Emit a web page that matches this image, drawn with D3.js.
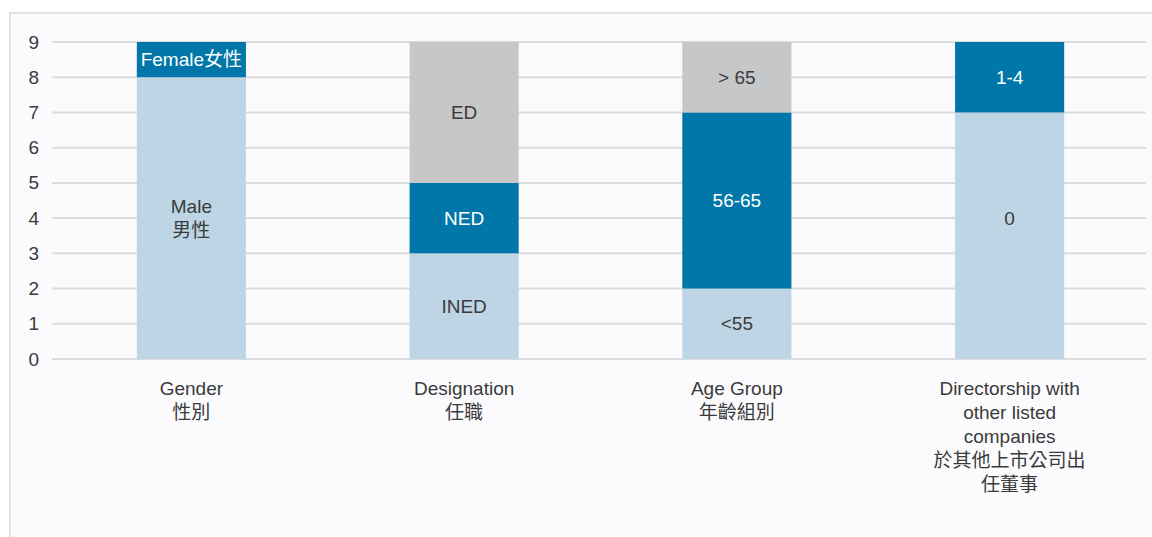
<!DOCTYPE html>
<html>
<head>
<meta charset="utf-8">
<script src="https://cdn.jsdelivr.net/npm/d3@7"></script>
<style>
  body { margin: 0; background: #ffffff; }
  svg { display: block; }
  text { font-family: "Liberation Sans", "Noto Sans CJK TC", sans-serif; }
</style>
</head>
<body>
<div id="chart"></div>
<script>
// categories (each label line is one entry)
var categories = ["Gender", "Designation", "Age Group", "Directorship"];
var categoryLines = [
  ["Gender", "性別"],
  ["Designation", "任職"],
  ["Age Group", "年齡組別"],
  ["Directorship with", "other listed", "companies", "於其他上市公司出", "任董事"]
];

// stacked segments, bottom to top
var segCategory = ["Gender", "Gender", "Designation", "Designation", "Designation", "Age Group", "Age Group", "Age Group", "Directorship", "Directorship"];
var segValue    = [8, 1, 3, 2, 4, 2, 5, 2, 7, 2];
var segTone     = ["light", "dark", "light", "dark", "grey", "light", "dark", "grey", "light", "dark"];
var segLabel    = [["Male", "男性"], ["Female女性"], ["INED"], ["NED"], ["ED"], ["<55"], ["56-65"], ["> 65"], ["0"], ["1-4"]];
// where the label sits (value units), null = middle of the segment
var segLabelAt  = [null, null, null, null, null, null, null, null, 4, null];

var yTicks = [0, 1, 2, 3, 4, 5, 6, 7, 8, 9];

var W = 1152, H = 537;
var margin = {top: 42, right: 6, bottom: 178, left: 55};

var fill = {light: "#bdd5e4", dark: "#0077a8", grey: "#c6c7c9"};
var ink  = {light: "#3a3a3a", dark: "#ffffff", grey: "#3a3a3a"};

var svg = d3.select("#chart").append("svg")
  .attr("width", W)
  .attr("height", H);

// panel frame
svg.append("rect")
  .attr("x", 10).attr("y", 13)
  .attr("width", W).attr("height", H)
  .attr("fill", "#fbfbfd")
  .attr("stroke", "#e2e2e4")
  .attr("stroke-width", 2);

var x = d3.scaleBand()
  .domain(categories)
  .range([margin.left, W - margin.right])
  .paddingInner(0.6)
  .paddingOuter(0.3);

var y = d3.scaleLinear()
  .domain([0, 9])
  .range([H - margin.bottom, margin.top]);

// grid lines
svg.append("g")
  .selectAll("line")
  .data(yTicks)
  .enter()
  .append("line")
    .attr("x1", 52)
    .attr("x2", 1146)
    .attr("y1", function (d) { return y(d); })
    .attr("y2", function (d) { return y(d); })
    .attr("stroke", "#dcdcde")
    .attr("stroke-width", 2);

// y axis labels
var yAxis = svg.append("g")
  .attr("transform", "translate(39,0)")
  .call(d3.axisLeft(y).tickValues(yTicks).tickSize(0).tickPadding(0).tickFormat(d3.format("d")));
yAxis.select(".domain").remove();
yAxis.selectAll("text")
  .attr("font-size", 19)
  .attr("fill", "#3a3a3a")
  .attr("font-family", "Liberation Sans, sans-serif");

// build stacks
var segs = [];
var base = {};
segCategory.forEach(function (c, i) {
  var b = base[c] || 0;
  segs.push({cat: c, y0: b, y1: b + segValue[i], tone: segTone[i], label: segLabel[i], at: segLabelAt[i]});
  base[c] = b + segValue[i];
});

svg.append("g")
  .selectAll("rect")
  .data(segs)
  .enter()
  .append("rect")
    .attr("x", function (d) { return x(d.cat); })
    .attr("width", x.bandwidth())
    .attr("y", function (d) { return y(d.y1); })
    .attr("height", function (d) { return y(d.y0) - y(d.y1); })
    .attr("fill", function (d) { return fill[d.tone]; });

// segment labels
var lineH = 24;
svg.append("g")
  .selectAll("text")
  .data(segs)
  .enter()
  .append("text")
    .attr("text-anchor", "middle")
    .attr("font-size", 19)
    .attr("fill", function (d) { return ink[d.tone]; })
    .each(function (d) {
      var mid = y(d.at != null ? d.at : (d.y0 + d.y1) / 2);
      var top = mid - (d.label.length - 1) * lineH / 2;
      d3.select(this).selectAll("tspan")
        .data(d.label)
        .enter()
        .append("tspan")
          .attr("x", x(d.cat) + x.bandwidth() / 2)
          .attr("y", function (t, j) { return top + j * lineH; })
          .attr("dy", "0.35em")
          .text(function (t) { return t; });
    });

// category labels
svg.append("g")
  .selectAll("text")
  .data(categories)
  .enter()
  .append("text")
    .attr("text-anchor", "middle")
    .attr("font-size", 19)
    .attr("fill", "#3a3a3a")
    .each(function (c, i) {
      d3.select(this).selectAll("tspan")
        .data(categoryLines[i])
        .enter()
        .append("tspan")
          .attr("x", x(c) + x.bandwidth() / 2)
          .attr("y", function (t, j) { return 388 + j * lineH; })
          .attr("dy", "0.35em")
          .text(function (t) { return t; });
    });
</script>
</body>
</html>
